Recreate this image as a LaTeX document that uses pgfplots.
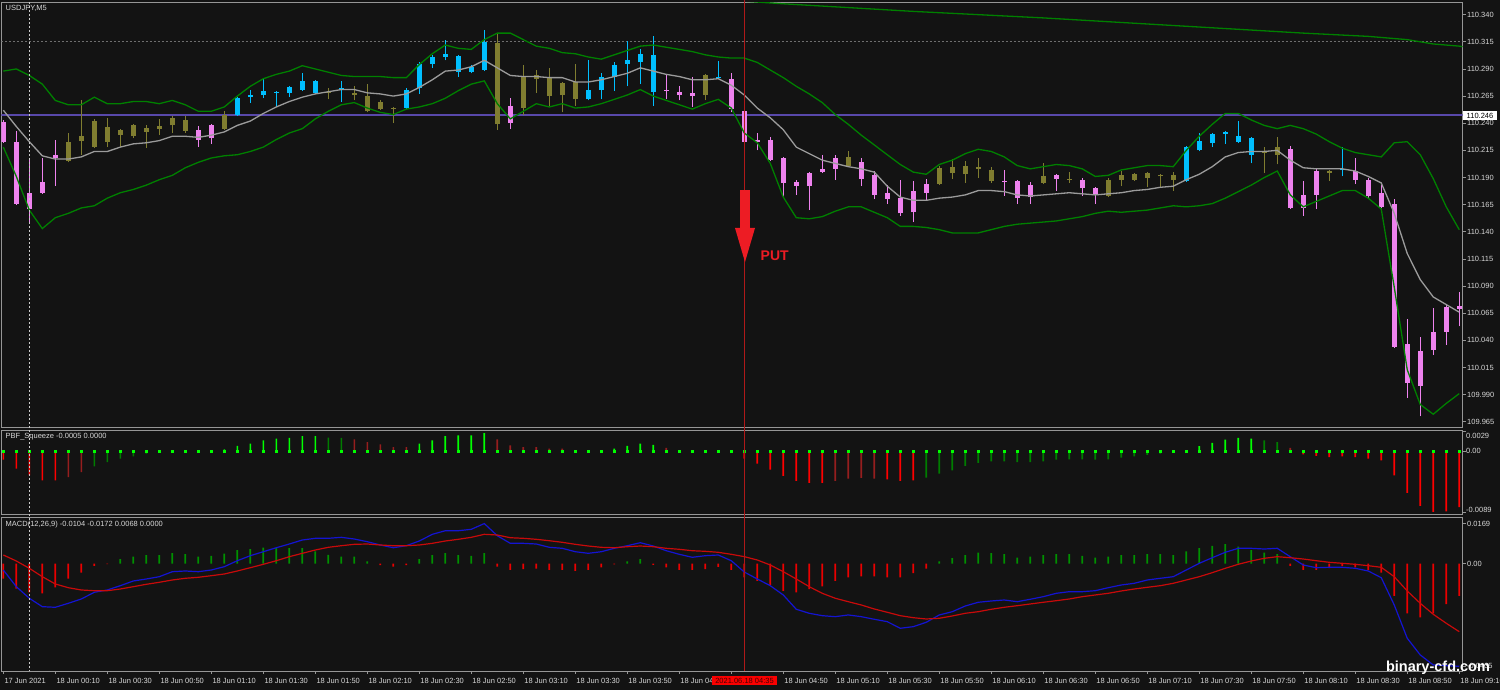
\documentclass[border=0pt]{standalone}
\usepackage{fontspec}
\setmainfont{Liberation Sans}
\usepackage{pgfplots}
\usepackage{pgfplotstable}
\pgfplotsset{compat=1.18}
\definecolor{bg}{RGB}{19,19,19}
\definecolor{framegray}{RGB}{150,150,150}
\definecolor{labgray}{RGB}{215,215,215}
\definecolor{cpink}{RGB}{238,130,238}
\definecolor{colive}{RGB}{128,125,48}
\definecolor{cblue}{RGB}{0,191,255}
\definecolor{bandgreen}{RGB}{0,128,0}
\definecolor{midgray}{RGB}{155,155,155}
\definecolor{bidblue}{RGB}{88,72,170}
\definecolor{levelgray}{RGB}{110,110,110}
\definecolor{vred}{RGB}{175,25,25}
\definecolor{arrowred}{RGB}{237,28,36}
\definecolor{sqg}{RGB}{0,255,0}
\definecolor{sqdg}{RGB}{0,125,0}
\definecolor{sqr}{RGB}{255,0,0}
\definecolor{sqdr}{RGB}{150,30,30}
\definecolor{mhg}{RGB}{0,145,0}
\definecolor{mhr}{RGB}{235,0,0}
\definecolor{macdblue}{RGB}{20,20,210}
\definecolor{sigred}{RGB}{200,10,10}
\definecolor{timered}{RGB}{250,0,0}
\definecolor{timetext}{RGB}{70,0,0}
\newcommand\tf{\fontsize{7.5}{9}\selectfont}

% candles: x high bodytop bodybottom low
\pgfplotstableread{
x h t b l
0 110.243 110.241 110.223 110.222
1 110.233 110.223 110.166 110.165
2 110.208 110.176 110.161 110.148
3 110.208 110.186 110.176 110.175
4 110.225 110.211 110.208 110.182
15 110.237 110.234 110.225 110.218
16 110.239 110.238 110.226 110.221
39 110.263 110.256 110.240 110.235
51 110.284 110.271 110.270 110.262
52 110.274 110.269 110.266 110.261
53 110.283 110.268 110.265 110.255
56 110.286 110.281 110.253 110.250
57 110.254 110.251 110.223 110.221
58 110.231 110.225 110.223 110.215
59 110.227 110.225 110.206 110.205
60 110.209 110.208 110.185 110.172
61 110.188 110.186 110.182 110.174
62 110.195 110.194 110.182 110.160
63 110.211 110.198 110.195 110.194
64 110.211 110.208 110.198 110.188
66 110.208 110.204 110.189 110.182
67 110.196 110.192 110.174 110.170
68 110.183 110.176 110.170 110.166
69 110.188 110.171 110.157 110.155
70 110.187 110.178 110.158 110.149
71 110.189 110.184 110.176 110.169
77 110.197 110.187 110.186 110.173
78 110.188 110.187 110.171 110.166
79 110.186 110.183 110.172 110.166
81 110.193 110.192 110.189 110.178
83 110.190 110.188 110.180 110.173
84 110.181 110.180 110.175 110.166
99 110.219 110.216 110.162 110.161
100 110.187 110.174 110.162 110.155
101 110.198 110.196 110.174 110.161
104 110.208 110.196 110.188 110.184
105 110.190 110.188 110.173 110.170
106 110.183 110.176 110.163 110.162
107 110.170 110.166 110.034 110.033
108 110.060 110.037 110.001 109.987
109 110.043 110.030 109.998 109.970
110 110.070 110.048 110.031 110.027
111 110.073 110.071 110.048 110.036
112 110.085 110.072 110.069 110.053
}\pinkC
\pgfplotstableread{
x h t b l
5 110.231 110.223 110.205 110.204
6 110.261 110.228 110.224 110.211
7 110.244 110.242 110.218 110.217
8 110.245 110.237 110.223 110.218
9 110.235 110.234 110.229 110.218
10 110.239 110.238 110.228 110.226
11 110.238 110.236 110.232 110.217
12 110.244 110.237 110.235 110.229
13 110.247 110.245 110.238 110.231
14 110.247 110.243 110.233 110.231
17 110.251 110.248 110.235 110.234
25 110.272 110.269 110.268 110.262
27 110.274 110.268 110.266 110.261
28 110.276 110.265 110.251 110.250
29 110.261 110.260 110.253 110.252
30 110.255 110.254 110.253 110.240
38 110.322 110.314 110.239 110.234
40 110.294 110.283 110.254 110.248
41 110.289 110.284 110.281 110.268
42 110.291 110.282 110.265 110.255
43 110.278 110.277 110.266 110.250
44 110.295 110.278 110.262 110.256
54 110.285 110.284 110.266 110.261
65 110.214 110.209 110.201 110.200
72 110.201 110.199 110.184 110.183
73 110.207 110.200 110.194 110.189
74 110.205 110.201 110.193 110.185
75 110.208 110.200 110.198 110.190
76 110.200 110.197 110.187 110.185
80 110.203 110.191 110.185 110.184
82 110.195 110.189 110.188 110.185
85 110.190 110.188 110.173 110.172
86 110.196 110.192 110.188 110.182
87 110.194 110.193 110.188 110.187
88 110.195 110.194 110.190 110.181
89 110.193 110.192 110.191 110.181
90 110.195 110.192 110.188 110.178
97 110.218 110.214 110.213 110.194
98 110.227 110.218 110.211 110.202
102 110.197 110.196 110.194 110.187
}\oliveC
\pgfplotstableread{
x h t b l
18 110.264 110.263 110.248 110.247
19 110.271 110.266 110.264 110.259
20 110.281 110.270 110.266 110.263
21 110.270 110.269 110.268 110.255
22 110.274 110.273 110.268 110.264
23 110.286 110.279 110.271 110.270
24 110.280 110.279 110.268 110.267
26 110.279 110.272 110.271 110.260
31 110.272 110.271 110.254 110.253
32 110.296 110.295 110.272 110.267
33 110.303 110.301 110.295 110.291
34 110.317 110.304 110.301 110.298
35 110.303 110.302 110.287 110.283
36 110.294 110.292 110.287 110.286
37 110.326 110.315 110.289 110.288
45 110.298 110.271 110.262 110.261
46 110.286 110.283 110.271 110.262
47 110.296 110.294 110.283 110.270
48 110.316 110.298 110.295 110.274
49 110.308 110.304 110.296 110.276
50 110.320 110.303 110.269 110.256
55 110.297 110.283 110.282 110.281
91 110.219 110.218 110.187 110.186
92 110.231 110.224 110.215 110.214
93 110.231 110.230 110.222 110.218
94 110.233 110.232 110.230 110.221
95 110.242 110.228 110.223 110.222
96 110.227 110.226 110.211 110.203
103 110.218 110.198 110.197 110.191
}\blueC
% Bollinger bands: upper, middle, lower
\pgfplotstableread{
x up mid lo
0 110.288 110.252 110.218
1 110.290 110.237 110.191
2 110.284 110.223 110.160
3 110.276 110.210 110.143
4 110.261 110.207 110.153
5 110.257 110.207 110.157
6 110.257 110.209 110.162
7 110.264 110.214 110.164
8 110.258 110.214 110.171
9 110.258 110.218 110.176
10 110.260 110.221 110.179
11 110.260 110.222 110.183
12 110.258 110.224 110.188
13 110.261 110.228 110.192
14 110.257 110.228 110.199
15 110.251 110.227 110.204
16 110.251 110.229 110.208
17 110.255 110.232 110.210
18 110.265 110.238 110.211
19 110.274 110.242 110.214
20 110.281 110.249 110.218
21 110.285 110.255 110.225
22 110.288 110.260 110.231
23 110.293 110.264 110.235
24 110.290 110.267 110.244
25 110.287 110.269 110.251
26 110.284 110.271 110.257
27 110.283 110.271 110.259
28 110.283 110.268 110.254
29 110.283 110.267 110.250
30 110.282 110.265 110.248
31 110.282 110.267 110.253
32 110.294 110.273 110.255
33 110.304 110.280 110.258
34 110.312 110.288 110.263
35 110.309 110.289 110.270
36 110.308 110.292 110.276
37 110.317 110.298 110.279
38 110.323 110.291 110.258
39 110.323 110.284 110.244
40 110.317 110.283 110.251
41 110.311 110.283 110.258
42 110.309 110.282 110.255
43 110.305 110.282 110.258
44 110.304 110.278 110.254
45 110.301 110.278 110.255
46 110.299 110.280 110.258
47 110.303 110.283 110.262
48 110.307 110.286 110.266
49 110.311 110.291 110.271
50 110.312 110.288 110.265
51 110.310 110.285 110.261
52 110.308 110.283 110.257
53 110.306 110.280 110.253
54 110.303 110.280 110.258
55 110.301 110.281 110.262
56 110.300 110.275 110.254
57 110.300 110.266 110.231
58 110.296 110.254 110.222
59 110.289 110.245 110.203
60 110.282 110.234 110.172
61 110.274 110.218 110.153
62 110.267 110.212 110.152
63 110.259 110.206 110.154
64 110.248 110.203 110.159
65 110.239 110.200 110.163
66 110.229 110.198 110.163
67 110.220 110.195 110.158
68 110.211 110.182 110.153
69 110.202 110.172 110.145
70 110.195 110.169 110.145
71 110.193 110.169 110.144
72 110.202 110.171 110.142
73 110.206 110.172 110.139
74 110.212 110.174 110.139
75 110.216 110.178 110.139
76 110.214 110.178 110.142
77 110.209 110.177 110.145
78 110.201 110.174 110.147
79 110.198 110.173 110.148
80 110.200 110.174 110.149
81 110.202 110.175 110.150
82 110.201 110.176 110.152
83 110.198 110.175 110.154
84 110.191 110.174 110.157
85 110.192 110.175 110.159
86 110.197 110.176 110.158
87 110.199 110.178 110.159
88 110.201 110.179 110.160
89 110.201 110.181 110.162
90 110.200 110.182 110.164
91 110.215 110.188 110.163
92 110.228 110.193 110.164
93 110.239 110.200 110.166
94 110.249 110.209 110.171
95 110.249 110.213 110.177
96 110.243 110.214 110.183
97 110.238 110.214 110.190
98 110.235 110.215 110.196
99 110.238 110.206 110.174
100 110.235 110.199 110.163
101 110.230 110.198 110.168
102 110.223 110.198 110.173
103 110.217 110.198 110.178
104 110.213 110.196 110.178
105 110.211 110.191 110.171
106 110.209 110.185 110.161
107 110.222 110.157 110.089
108 110.223 110.120 110.013
109 110.211 110.096 109.981
110 110.189 110.080 109.972
111 110.163 110.073 109.982
112 110.142 110.066 109.991
}\bands
% PBF_Squeeze histogram by colour
\pgfplotstableread{
x v
0 -0.00127
1 -0.00258
2 -0.00355
3 -0.00428
4 -0.00428
56 -0.00015
57 -0.00112
58 -0.00185
59 -0.00273
60 -0.00365
61 -0.00438
62 -0.00467
63 -0.00467
68 -0.00413
69 -0.00438
70 -0.00428
100 -0.00048
101 -0.00073
102 -0.00088
103 -0.00077
104 -0.00088
105 -0.00112
106 -0.00136
107 -0.00355
108 -0.00613
109 -0.00803
110 -0.00890
111 -0.00880
112 -0.00818
}\sqR
\pgfplotstableread{
x v
5 -0.00380
6 -0.00307
27 0.00171
28 0.00131
29 0.00098
30 0.00058
31 0.00058
38 0.00171
39 0.00083
40 0.00058
41 0.00058
42 0.00034
43 0.00034
51 0.00044
64 -0.00438
65 -0.00404
66 -0.00394
67 -0.00404
99 0.00044
}\sqDR
\pgfplotstableread{
x v
7 -0.00223
8 -0.00161
9 -0.00112
10 -0.00077
11 -0.00039
12 -0.00015
25 0.00194
26 0.00190
71 -0.00390
72 -0.00331
73 -0.00282
74 -0.00219
75 -0.00175
76 -0.00150
77 -0.00150
78 -0.00161
79 -0.00161
80 -0.00150
81 -0.00127
82 -0.00121
83 -0.00121
84 -0.00127
85 -0.00121
86 -0.00098
87 -0.00077
88 -0.00058
89 -0.00039
90 -0.00015
97 0.00156
98 0.00131
}\sqDG
\pgfplotstableread{
x v
17 0.00025
18 0.00073
19 0.00107
20 0.00156
21 0.00180
22 0.00190
23 0.00215
24 0.00215
32 0.00107
33 0.00156
34 0.00215
35 0.00229
36 0.00229
37 0.00262
47 0.00034
48 0.00073
49 0.00107
50 0.00088
92 0.00069
93 0.00117
94 0.00165
95 0.00190
96 0.00180
}\sqG
% MACD histogram
\pgfplotstableread{
x v
9 0.00182
10 0.00296
11 0.00351
12 0.00351
13 0.00436
14 0.00393
15 0.00296
16 0.00326
17 0.00423
18 0.00563
19 0.00605
20 0.00677
21 0.00647
22 0.00647
23 0.00647
24 0.00508
25 0.00368
26 0.00296
27 0.00296
28 0.00085
32 0.00182
33 0.00351
34 0.00436
35 0.00351
36 0.00326
37 0.00436
48 0.00085
49 0.00182
72 0.00085
73 0.00224
74 0.00351
75 0.00465
76 0.00436
77 0.00393
78 0.00254
79 0.00296
80 0.00351
81 0.00393
82 0.00393
83 0.00326
84 0.00254
85 0.00296
86 0.00351
87 0.00351
88 0.00393
89 0.00393
90 0.00351
91 0.00508
92 0.00647
93 0.00749
94 0.00816
95 0.00719
96 0.00563
97 0.00465
98 0.00393
}\mhG
\pgfplotstableread{
x v
0 -0.00635
1 -0.01058
2 -0.01227
3 -0.01269
4 -0.01015
5 -0.00635
6 -0.00381
7 -0.00097
8 -0.00030
29 -0.00072
30 -0.00127
31 -0.00072
38 -0.00127
39 -0.00266
40 -0.00241
41 -0.00212
42 -0.00266
43 -0.00266
44 -0.00309
45 -0.00266
46 -0.00169
47 -0.00042
50 -0.00055
51 -0.00169
52 -0.00266
53 -0.00266
54 -0.00241
55 -0.00140
56 -0.00266
57 -0.00592
58 -0.00732
59 -0.00918
60 -0.01155
61 -0.01227
62 -0.01087
63 -0.00973
64 -0.00732
65 -0.00592
66 -0.00550
67 -0.00550
68 -0.00592
69 -0.00592
70 -0.00410
71 -0.00212
99 -0.00097
100 -0.00266
101 -0.00266
102 -0.00199
103 -0.00097
104 -0.00169
105 -0.00266
106 -0.00381
107 -0.01366
108 -0.02115
109 -0.02284
110 -0.02115
111 -0.01722
112 -0.01366
}\mhR
% MACD main (blue) and signal (red)
\pgfplotstableread{
x m s
0 -0.00275 0.00360
1 -0.00981 0.00106
2 -0.01472 -0.00203
3 -0.01827 -0.00558
4 -0.01853 -0.00867
5 -0.01684 -0.01024
6 -0.01502 -0.01121
7 -0.01218 -0.01151
8 -0.01121 -0.01151
9 -0.00939 -0.01079
10 -0.00740 -0.00981
11 -0.00656 -0.00880
12 -0.00558 -0.00795
13 -0.00347 -0.00698
14 -0.00317 -0.00626
15 -0.00347 -0.00584
16 -0.00275 -0.00516
17 -0.00135 -0.00444
18 0.00118 -0.00317
19 0.00330 -0.00178
20 0.00499 -0.00034
21 0.00668 0.00118
22 0.00825 0.00288
23 0.00994 0.00431
24 0.01066 0.00571
25 0.01066 0.00685
26 0.01108 0.00753
27 0.01036 0.00812
28 0.00922 0.00825
29 0.00783 0.00783
30 0.00668 0.00753
31 0.00753 0.00753
32 0.00952 0.00783
33 0.01235 0.00854
34 0.01387 0.00952
35 0.01387 0.01024
36 0.01447 0.01108
37 0.01690 0.01235
38 0.01176 0.01206
39 0.00854 0.01091
40 0.00854 0.01066
41 0.00825 0.01024
42 0.00685 0.00964
43 0.00643 0.00897
44 0.00499 0.00812
45 0.00431 0.00740
46 0.00499 0.00685
47 0.00643 0.00668
48 0.00753 0.00711
49 0.00880 0.00740
50 0.00740 0.00711
51 0.00541 0.00643
52 0.00389 0.00601
53 0.00262 0.00541
54 0.00330 0.00516
55 0.00360 0.00474
56 0.00118 0.00389
57 -0.00360 0.00290
58 -0.00656 0.00148
59 -0.00939 -0.00063
60 -0.01332 -0.00347
61 -0.01937 -0.00656
62 -0.02107 -0.00981
63 -0.02208 -0.01261
64 -0.02250 -0.01472
65 -0.02178 -0.01616
66 -0.02250 -0.01755
67 -0.02360 -0.01925
68 -0.02462 -0.02064
69 -0.02741 -0.02208
70 -0.02673 -0.02293
71 -0.02487 -0.02348
72 -0.02178 -0.02318
73 -0.02039 -0.02221
74 -0.01798 -0.02107
75 -0.01641 -0.02039
76 -0.01586 -0.01937
77 -0.01544 -0.01853
78 -0.01616 -0.01785
79 -0.01514 -0.01713
80 -0.01404 -0.01641
81 -0.01261 -0.01574
82 -0.01193 -0.01502
83 -0.01193 -0.01404
84 -0.01151 -0.01332
85 -0.01024 -0.01261
86 -0.00909 -0.01163
87 -0.00838 -0.01079
88 -0.00698 -0.01007
89 -0.00626 -0.00939
90 -0.00558 -0.00838
91 -0.00275 -0.00698
92 0.00008 -0.00558
93 0.00245 -0.00389
94 0.00474 -0.00203
95 0.00643 -0.00034
96 0.00643 0.00106
97 0.00613 0.00220
98 0.00643 0.00288
99 0.00288 0.00245
100 -0.00063 0.00190
101 -0.00178 0.00118
102 -0.00161 0.00051
103 -0.00161 0.00008
104 -0.00203 -0.00034
105 -0.00317 -0.00093
106 -0.00601 -0.00161
107 -0.01755 -0.00558
108 -0.03164 -0.01163
109 -0.03870 -0.01684
110 -0.04293 -0.02149
111 -0.04323 -0.02529
112 -0.04350 -0.02885
}\macd

\pgfplotsset{
  mtpanel/.style={
    scale only axis, width=1461pt, xmin=-0.14, xmax=112.25,
    axis line style={draw=framegray, line width=0.9pt},
    xtick=\empty, tick align=outside, major tick length=3pt,
    tick style={draw=framegray, line width=0.8pt},
    ytick pos=right, scaled y ticks=false, scaled x ticks=false,
    yticklabel style={font=\tf, text=labgray, anchor=west, inner sep=0pt, xshift=1.5pt},
    clip=true},
  wick/.style={line width=1.1pt, no markers, quiver={u=0, v=\thisrow{h}-\thisrow{l}}},
  body/.style={line width=5.5pt, no markers, quiver={u=0, v=\thisrow{t}-\thisrow{b}}},
  sqbar/.style={ybar, bar width=1.6pt, bar shift=0pt, draw=none},
  mbar/.style={ybar, bar width=1.8pt, bar shift=0pt, draw=none},
}

\begin{document}
\begin{tikzpicture}[x=1pt,y=1pt]
\fill[bg] (0pt,0pt) rectangle (1500pt,690pt);

% ---------------- main price panel ----------------
\begin{axis}[mtpanel, at={(1.5pt,262.5pt)}, anchor=south west, height=425pt,
  ymin=109.9598, ymax=110.3512,
  ytick={109.965,109.990,110.015,110.040,110.065,110.090,110.115,110.140,110.165,110.190,110.215,110.240,110.265,110.290,110.315,110.340},
  yticklabels={109.965,109.990,110.015,110.040,110.065,110.090,110.115,110.140,110.165,110.190,110.215,110.240,110.265,110.290,110.315,110.340}]
\addplot[levelgray, line width=0.8pt, dash pattern=on 2pt off 2pt] coordinates {(-0.14,110.3157) (112.25,110.3157)};
\addplot[draw=bidblue, line width=1.2pt] coordinates {(-0.14,110.2475) (112.25,110.2475)};
\addplot[cpink, wick] table[x=x, y=l] {\pinkC};
\addplot[cpink, body] table[x=x, y=b] {\pinkC};
\addplot[colive, wick] table[x=x, y=l] {\oliveC};
\addplot[colive, body] table[x=x, y=b] {\oliveC};
\addplot[cblue, wick] table[x=x, y=l] {\blueC};
\addplot[cblue, body] table[x=x, y=b] {\blueC};
\addplot[bandgreen, line width=1.3pt] table[x=x, y=up] {\bands};
\addplot[bandgreen, line width=1.3pt] table[x=x, y=lo] {\bands};
\addplot[midgray, line width=1.3pt] table[x=x, y=mid] {\bands};
\addplot[bandgreen, line width=1.3pt] coordinates {(55,110.354) (60,110.350) (70,110.343) (80,110.337) (90,110.330) (100,110.323) (105,110.320) (108,110.317) (110,110.313) (112,110.311) (112.25,110.3105)};
\end{axis}

% ---------------- PBF_Squeeze panel ----------------
\begin{axis}[mtpanel, at={(1.5pt,176pt)}, anchor=south west, height=83.5pt,
  ymin=-0.00920, ymax=0.00299, ytick={0.0029,0,-0.0089}, yticklabels={}]
\addplot[sqbar, fill=sqr] table[x=x, y=v] {\sqR};
\addplot[sqbar, fill=sqdr] table[x=x, y=v] {\sqDR};
\addplot[sqbar, fill=sqdg] table[x=x, y=v] {\sqDG};
\addplot[sqbar, fill=sqg] table[x=x, y=v] {\sqG};
\addplot[only marks, mark=square*, mark size=1.15pt, sqg, mark options={draw=none, fill=sqg}] coordinates {
(0,0)(1,0)(2,0)(3,0)(4,0)(5,0)(6,0)(7,0)(8,0)(9,0)(10,0)(11,0)(12,0)(13,0)(14,0)(15,0)(16,0)(17,0)(18,0)(19,0)
(20,0)(21,0)(22,0)(23,0)(24,0)(25,0)(26,0)(27,0)(28,0)(29,0)(30,0)(31,0)(32,0)(33,0)(34,0)(35,0)(36,0)(37,0)(38,0)(39,0)
(40,0)(41,0)(42,0)(43,0)(44,0)(45,0)(46,0)(47,0)(48,0)(49,0)(50,0)(51,0)(52,0)(53,0)(54,0)(55,0)(56,0)(57,0)(58,0)(59,0)
(60,0)(61,0)(62,0)(63,0)(64,0)(65,0)(66,0)(67,0)(68,0)(69,0)(70,0)(71,0)(72,0)(73,0)(74,0)(75,0)(76,0)(77,0)(78,0)(79,0)
(80,0)(81,0)(82,0)(83,0)(84,0)(85,0)(86,0)(87,0)(88,0)(89,0)(90,0)(91,0)(92,0)(93,0)(94,0)(95,0)(96,0)(97,0)(98,0)(99,0)
(100,0)(101,0)(102,0)(103,0)(104,0)(105,0)(106,0)(107,0)(108,0)(109,0)(110,0)(111,0)(112,0)};
\end{axis}

% ---------------- MACD panel ----------------
\begin{axis}[mtpanel, at={(1.5pt,19pt)}, anchor=south west, height=153.5pt,
  ymin=-0.04549, ymax=0.01947,
  ytick={-0.0435,0,0.0169}, yticklabels={-0.0435,0.00,0.0169},
  xtick={0,4,...,112}, xtick pos=bottom,
  xticklabels={17 Jun 2021,18 Jun 00:10,18 Jun 00:30,18 Jun 00:50,18 Jun 01:10,18 Jun 01:30,18 Jun 01:50,18 Jun 02:10,18 Jun 02:30,18 Jun 02:50,18 Jun 03:10,18 Jun 03:30,18 Jun 03:50,18 Jun 04,{},18 Jun 04:50,18 Jun 05:10,18 Jun 05:30,18 Jun 05:50,18 Jun 06:10,18 Jun 06:30,18 Jun 06:50,18 Jun 07:10,18 Jun 07:30,18 Jun 07:50,18 Jun 08:10,18 Jun 08:30,18 Jun 08:50,18 Jun 09:10},
  xticklabel style={font=\tf, text=labgray, anchor=north west, inner sep=0pt, xshift=1pt, yshift=-4pt}]
\addplot[mbar, fill=mhg] table[x=x, y=v] {\mhG};
\addplot[mbar, fill=mhr] table[x=x, y=v] {\mhR};
\addplot[macdblue, line width=1.2pt] table[x=x, y=m] {\macd};
\addplot[sigred, line width=1.2pt] table[x=x, y=s] {\macd};
\end{axis}

% ---------------- annotations ----------------
\draw[white!80!black, line width=0.9pt, dash pattern=on 2pt off 2pt] (29.3pt,688pt) -- (29.3pt,19pt);
\draw[vred, line width=1pt] (744.7pt,690pt) -- (744.7pt,19pt);
\fill[arrowred] (740pt,500pt) rectangle (750pt,462pt);
\fill[arrowred] (735pt,462pt) -- (755pt,462pt) -- (745pt,428pt) -- cycle;
\node[anchor=base west, inner sep=0pt, text=arrowred, font=\bfseries\fontsize{14}{16}\selectfont] at (760.5pt,429.5pt) {PUT};

\node[anchor=north west, inner sep=0pt, text=labgray, font=\tf] at (5.5pt,685pt) {USDJPY,M5};
\node[anchor=west, inner sep=0pt, text=labgray, font=\tf] at (5.5pt,253.5pt) {PBF\_Squeeze -0.0005 0.0000};
\node[anchor=west, inner sep=0pt, text=labgray, font=\tf] at (5.5pt,165.5pt) {MACD(12,26,9) -0.0104 -0.0172 0.0068 0.0000};

\node[anchor=west, inner sep=0pt, text=labgray, font=\tf] at (1466pt,254.5pt) {0.0029};
\node[anchor=west, inner sep=0pt, text=labgray, font=\tf] at (1466pt,239pt) {0.00};
\node[anchor=west, inner sep=0pt, text=labgray, font=\tf] at (1466pt,180.5pt) {-0.0089};

\fill[white] (1463pt,570pt) rectangle (1497pt,578.5pt);
\node[anchor=center, inner sep=0pt, text=black, font=\tf] at (1480pt,574.2pt) {110.246};

\fill[timered] (712pt,5pt) rectangle (777pt,14pt);
\node[anchor=center, inner sep=0pt, text=timetext, font=\tf] at (744.5pt,9.5pt) {2021.06.18 04:35};

\node[anchor=center, inner sep=0pt, text=white, font=\bfseries\fontsize{14.5}{16}\selectfont] at (1438pt,22.5pt) {binary-cfd.com};

\pgfresetboundingbox
\useasboundingbox (0pt,0pt) rectangle (1500pt,690pt);
\end{tikzpicture}
\end{document}
